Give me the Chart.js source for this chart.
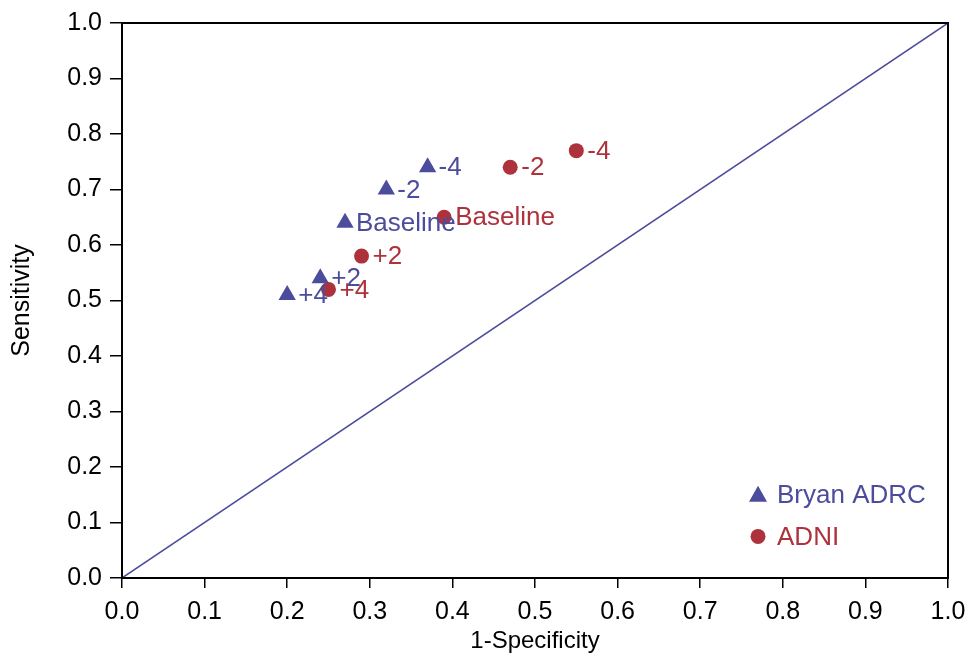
<!DOCTYPE html>
<html>
<head>
<meta charset="utf-8">
<script src="https://cdn.jsdelivr.net/npm/chart.js@4.4.0/dist/chart.umd.min.js"></script>
<style>
  html, body { margin: 0; padding: 0; background: #fff; }
  #wrap { width: 969px; height: 657px; }
</style>
</head>
<body>
<div id="wrap"><canvas id="roc" width="969" height="657"></canvas></div>
<script>
// values
const pointLabels = ["Baseline", "-2", "-4", "+2", "+4"];
const adrcX = [0.27, 0.32, 0.37, 0.24, 0.20];
const adrcY = [0.64, 0.70, 0.74, 0.54, 0.51];
const adniX = [0.39, 0.47, 0.55, 0.29, 0.25];
const adniY = [0.65, 0.74, 0.77, 0.58, 0.52];
const tickValues = [0, 0.1, 0.2, 0.3, 0.4, 0.5, 0.6, 0.7, 0.8, 0.9, 1.0];

const blue = "#4c4c9c";
const red = "#ad323c";
const font = "'Liberation Sans', Arial, sans-serif";

function toPoints(xs, ys) {
  return xs.map((x, i) => ({ x: x, y: ys[i] }));
}

// labels next to every marker
const pointText = {
  id: "pointText",
  afterDatasetsDraw(chart) {
    const c = chart.ctx;
    c.save();
    c.font = "26px " + font;
    c.textBaseline = "middle";
    c.textAlign = "left";
    chart.data.datasets.forEach((ds, i) => {
      if (!ds.showText) return;
      const meta = chart.getDatasetMeta(i);
      c.fillStyle = ds.textColor;
      meta.data.forEach((el, j) => {
        c.fillText(pointLabels[j], el.x + 11, el.y + 1);
      });
    });
    c.restore();
  }
};

// box round the plot + legend inside it
const frameAndLegend = {
  id: "frameAndLegend",
  afterDraw(chart) {
    const c = chart.ctx;
    const a = chart.chartArea;
    c.save();
    c.strokeStyle = "#000";
    c.lineWidth = 2;
    c.strokeRect(a.left, a.top, a.right - a.left, a.bottom - a.top);

    const lx = chart.scales.x.getPixelForValue(0.77);
    const rows = [
      { y: chart.scales.y.getPixelForValue(0.15), text: "Bryan ADRC", color: blue, shape: "tri" },
      { y: chart.scales.y.getPixelForValue(0.075), text: "ADNI", color: red, shape: "dot" }
    ];
    c.font = "26px " + font;
    c.textBaseline = "middle";
    rows.forEach(r => {
      c.fillStyle = r.color;
      c.beginPath();
      if (r.shape === "tri") {
        c.moveTo(lx, r.y - 9);
        c.lineTo(lx + 9, r.y + 7);
        c.lineTo(lx - 9, r.y + 7);
        c.closePath();
      } else {
        c.arc(lx, r.y, 7.5, 0, Math.PI * 2);
      }
      c.fill();
      c.fillText(r.text, lx + 19, r.y + 1);
    });
    c.restore();
  }
};

const ctx = document.getElementById("roc").getContext("2d");

new Chart(ctx, {
  type: "scatter",
  data: {
    datasets: [
      {
        label: "Bryan ADRC",
        data: toPoints(adrcX, adrcY),
        pointStyle: "triangle",
        pointRadius: 10,
        backgroundColor: blue,
        borderColor: blue,
        borderWidth: 0,
        showText: true,
        textColor: blue
      },
      {
        label: "ADNI",
        data: toPoints(adniX, adniY),
        pointStyle: "circle",
        pointRadius: 7.5,
        backgroundColor: red,
        borderColor: red,
        borderWidth: 0,
        showText: true,
        textColor: red
      },
      {
        label: "diagonal",
        type: "line",
        data: toPoints([0, 1], [0, 1]),
        borderColor: blue,
        borderWidth: 1.5,
        pointRadius: 0,
        fill: false
      }
    ]
  },
  options: {
    responsive: false,
    animation: false,
    layout: { padding: { top: 22, right: 0, left: 0, bottom: 0 } },
    plugins: {
      legend: { display: false },
      tooltip: { enabled: false }
    },
    scales: {
      x: {
        type: "linear",
        min: 0,
        max: 1,
        afterBuildTicks: (axis) => { axis.ticks = tickValues.map(v => ({ value: v })); },
        afterFit: (axis) => {
          axis.height = 79;
          axis.paddingRight = 21;
        },
        ticks: {
          color: "#000",
          font: { size: 25, family: font },
          padding: 9,
          maxRotation: 0,
          callback: (v) => v.toFixed(1)
        },
        grid: { display: true, drawOnChartArea: false, drawTicks: true, tickLength: 10, color: "#000", lineWidth: 1.5 },
        border: { display: true, color: "#000", width: 2 },
        title: {
          display: true,
          text: "1-Specificity",
          color: "#000",
          font: { size: 24, family: font },
          padding: { top: 0, bottom: 1 }
        }
      },
      y: {
        type: "linear",
        min: 0,
        max: 1,
        afterBuildTicks: (axis) => { axis.ticks = tickValues.map(v => ({ value: v })); },
        afterFit: (axis) => { axis.width = 122; },
        ticks: {
          color: "#000",
          font: { size: 25, family: font },
          padding: 8,
          callback: (v) => v.toFixed(1)
        },
        grid: { display: true, drawOnChartArea: false, drawTicks: true, tickLength: 12, color: "#000", lineWidth: 1.5 },
        border: { display: true, color: "#000", width: 2 },
        title: {
          display: true,
          text: "Sensitivity",
          color: "#000",
          font: { size: 25, family: font },
          padding: { top: 7, bottom: 0 }
        }
      }
    }
  },
  plugins: [pointText, frameAndLegend]
});
</script>
</body>
</html>
